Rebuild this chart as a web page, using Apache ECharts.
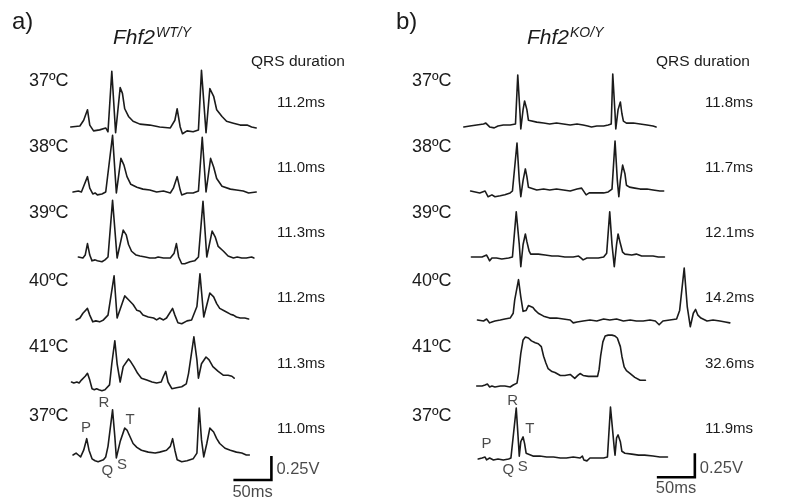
<!DOCTYPE html>
<html>
<head>
<meta charset="utf-8">
<script src="https://cdn.jsdelivr.net/npm/echarts@6.0.0/dist/echarts.min.js"></script>
<style>
  html, body { margin: 0; padding: 0; background: #ffffff; }
  #chart { width: 785px; height: 502px; }
</style>
</head>
<body>
<div id="chart"></div>
<script>
// Surface ECG traces. Each point is [time in ms, amplitude in V], 0 V = isoelectric line.

// ---- Fhf2 WT/Y ----
const wt37a = [[1,0],[13,0.01],[18,0.07],[23,0.18],[26,0.02],[31,-0.04],[39,-0.03],[47,-0.01],[50,-0.05],[55,0.58],[60,-0.06],[66,0.41],[69,0.35],[72,0.19],[77,0.11],[83,0.06],[92,0.03],[105,0.02],[118,0],[132,-0.01],[138,0.07],[141,0.19],[145,0],[148,-0.07],[154,-0.04],[162,-0.05],[169,-0.03],[173,0.59],[179,-0.06],[184,0.40],[189,0.32],[193,0.18],[200,0.11],[206,0.06],[215,0.04],[224,0.02],[233,0.02],[239,0],[245,-0.01]];
const wt38 = [[4,0],[11,0.01],[15,0],[18,0.06],[23,0.16],[26,0.04],[30,-0.02],[33,-0.01],[36,-0.03],[42,-0.02],[47,0],[56,0.59],[61,-0.01],[67,0.35],[71,0.28],[75,0.16],[80,0.08],[88,0.05],[96,0.03],[105,0.02],[114,0],[123,0.01],[132,-0.01],[136,0.04],[141,0.16],[145,0.02],[147,-0.03],[154,-0.01],[162,-0.01],[169,0.01],[174,0.57],[179,0],[185,0.35],[189,0.26],[193,0.14],[200,0.06],[211,0.03],[219,0.02],[228,0.01],[235,-0.01],[245,0]];
const wt39 = [[11,0],[17,-0.01],[20,0.02],[23,0.14],[26,0.02],[29,-0.04],[33,-0.03],[36,-0.04],[42,-0.05],[46,-0.03],[50,0],[56,0.59],[62,-0.01],[70,0.28],[74,0.23],[77,0.13],[81,0.06],[87,0.02],[92,0.01],[99,0],[105,-0.01],[112,-0.01],[116,0],[123,-0.01],[132,-0.01],[137,0.04],[140,0.14],[143,0],[147,-0.07],[151,-0.07],[158,-0.05],[164,-0.04],[169,0],[175,0.58],[180,0],[187,0.27],[191,0.21],[195,0.11],[202,0.06],[208,0.01],[215,-0.01],[220,0],[226,-0.01],[232,-0.01],[239,0],[242,-0.01]];
const wt40 = [[8,-0.02],[13,0],[17,0.05],[23,0.10],[26,0.03],[30,-0.04],[34,-0.03],[39,-0.04],[44,-0.02],[50,0.03],[58,0.44],[62,0],[72,0.23],[77,0.19],[83,0.14],[88,0.08],[92,0.07],[96,0.03],[103,0.01],[110,0],[114,-0.02],[118,0],[123,-0.02],[127,0],[135,0.10],[138,0.03],[142,-0.05],[147,-0.06],[154,-0.03],[160,-0.02],[167,0.12],[171,0.46],[176,0.01],[184,0.26],[189,0.22],[193,0.15],[197,0.10],[204,0.07],[211,0.04],[215,0.03],[219,0.01],[224,0],[230,0],[235,-0.01]];
const wt41 = [[2,0],[5,-0.01],[9,0],[12,-0.01],[15,0.02],[20,0.06],[23,0.09],[26,0.02],[29,-0.07],[32,-0.08],[35,-0.07],[38,-0.08],[42,-0.09],[46,-0.08],[52,-0.03],[55,0.19],[59,0.43],[62,0.19],[66,0],[70,0.16],[77,0.24],[80,0.21],[84,0.16],[89,0.09],[94,0.04],[101,0.02],[108,0],[114,-0.01],[120,0],[123,0.06],[126,0.11],[129,0],[134,-0.07],[140,-0.06],[147,-0.05],[153,-0.02],[156,0.09],[163,0.47],[167,0.23],[169,0.04],[173,0.19],[179,0.26],[183,0.23],[188,0.16],[195,0.11],[202,0.07],[208,0.07],[213,0.06],[216,0.04]];
const wt37b = [[4,0],[8,0.02],[11,0],[14,-0.02],[18,0.05],[22,0.17],[25,0.05],[29,-0.04],[33,-0.06],[37,-0.07],[44,-0.05],[47,-0.02],[50,0.09],[56,0.47],[59,0.19],[61,-0.03],[66,0.14],[72,0.28],[75,0.26],[79,0.19],[83,0.12],[88,0.08],[94,0.05],[103,0.03],[112,0.02],[118,0.03],[127,0.05],[132,0.09],[135,0.17],[138,0.05],[141,-0.05],[147,-0.07],[154,-0.06],[162,-0.04],[167,0.02],[170,0.49],[173,0.16],[176,-0.02],[180,0.12],[184,0.28],[189,0.24],[193,0.17],[197,0.12],[204,0.07],[211,0.05],[219,0.03],[226,0.02],[232,0],[236,0]];

// ---- Fhf2 KO/Y ----
const ko37a = [[5,-0.02],[13,-0.01],[22,0],[31,0.01],[34,0.02],[39,-0.02],[45,-0.03],[50,-0.01],[57,0],[66,0],[73,0.01],[76,0.52],[79,0.12],[80,-0.04],[83,0.16],[85,0.25],[88,0.16],[90,0.05],[92,0.03],[101,0.03],[110,0.02],[118,0.01],[127,0.02],[136,0.01],[145,0],[154,0.01],[162,0],[168,-0.01],[170,-0.03],[173,-0.02],[180,-0.01],[189,-0.01],[195,0],[199,0.01],[201,0.53],[204,0.12],[205,-0.04],[208,0.16],[211,0.24],[213,0.12],[215,0.04],[219,0.02],[228,0.02],[237,0.01],[246,0],[254,-0.01],[258,-0.02]];
const ko38 = [[14,0],[20,-0.01],[26,-0.02],[33,0],[35,-0.02],[37,-0.06],[42,-0.04],[46,-0.06],[53,-0.05],[59,-0.04],[66,-0.02],[69,0],[75,0.50],[78,0.11],[80,-0.06],[83,0.11],[86,0.23],[88,0.15],[90,0.04],[92,0.02],[101,0.01],[110,0.02],[118,0.01],[127,0.02],[136,0.01],[145,0],[154,0.02],[160,0.03],[162,0.01],[166,-0.04],[170,-0.02],[176,-0.02],[182,-0.02],[189,-0.02],[195,-0.01],[200,0.02],[204,0.52],[207,0.11],[209,-0.06],[211,0.11],[214,0.27],[217,0.18],[219,0.06],[223,0.04],[230,0.03],[237,0.02],[246,0.02],[254,0.01],[263,0],[268,0]];
const ko39 = [[15,0],[22,0],[29,0],[32,0.01],[35,0.02],[37,-0.01],[39,-0.04],[42,-0.01],[48,-0.01],[55,-0.02],[64,-0.01],[69,0],[74,0.47],[78,0.13],[80,-0.10],[83,0.13],[86,0.24],[88,0.16],[91,0.06],[93,0.03],[103,0.03],[112,0.02],[121,0.01],[129,0.01],[138,0],[149,0],[156,0.01],[159,-0.01],[162,-0.03],[167,-0.01],[173,-0.01],[182,-0.01],[189,0],[193,0.04],[197,0.47],[200,0.13],[203,-0.10],[206,0.13],[208,0.24],[211,0.14],[214,0.05],[217,0.03],[226,0.02],[232,0.03],[239,0.01],[248,0.01],[254,0.01],[261,0],[269,0]];
const ko40 = [[23,0],[31,-0.01],[35,0.01],[39,-0.03],[42,-0.02],[46,-0.01],[53,0],[59,0.01],[66,0.02],[70,0.07],[72,0.21],[77,0.42],[80,0.24],[83,0.09],[87,0.10],[90,0.15],[92,0.17],[96,0.13],[99,0.10],[103,0.07],[110,0.04],[118,0.02],[127,0.02],[136,0.01],[145,0],[149,-0.03],[151,-0.05],[154,-0.02],[162,-0.01],[171,0],[180,-0.01],[189,0.01],[197,0],[206,0.01],[215,-0.01],[224,0],[232,-0.01],[241,-0.01],[250,0],[257,-0.01],[259,-0.03],[262,-0.05],[267,-0.01],[276,0],[285,0.01],[289,0.10],[295,0.54],[299,0.14],[303,-0.07],[307,0.07],[310,0.11],[313,0.05],[317,0.02],[325,-0.01],[333,0],[342,-0.01],[349,-0.02],[355,-0.03]];
const ko41 = [[22,0],[29,0],[33,0.01],[36,0.02],[39,-0.01],[42,0],[46,-0.01],[53,0],[59,0],[66,-0.01],[70,0.01],[75,0.03],[77,0.13],[80,0.34],[83,0.48],[86,0.51],[90,0.50],[94,0.47],[99,0.45],[103,0.44],[107,0.41],[110,0.31],[113,0.24],[116,0.18],[121,0.15],[125,0.14],[132,0.11],[138,0.11],[145,0.12],[148,0.10],[151,0.08],[155,0.11],[158,0.13],[162,0.11],[169,0.10],[175,0.10],[181,0.10],[183,0.17],[185,0.31],[188,0.46],[191,0.52],[195,0.53],[200,0.53],[204,0.52],[207,0.50],[211,0.41],[213,0.31],[216,0.20],[219,0.16],[224,0.13],[230,0.09],[237,0.06],[241,0.06],[244,0.06]];
const ko37b = [[24,-0.01],[29,0],[33,0.01],[35,-0.02],[39,0],[44,-0.02],[50,-0.01],[57,-0.02],[64,-0.01],[67,0],[74,0.52],[77,0.15],[78,0.02],[80,0.17],[83,0.22],[85,0.15],[87,0.05],[89,0.03],[96,0.02],[105,0.02],[114,0.01],[123,0.01],[132,0],[140,0],[149,0.01],[158,0],[161,0.02],[163,-0.02],[167,-0.03],[171,0],[180,0],[189,0],[194,0.01],[198,0.53],[203,0.10],[204,0.03],[206,0.21],[208,0.24],[211,0.17],[213,0.07],[217,0.05],[226,0.04],[235,0.03],[243,0.03],[254,0.02],[263,0.01],[273,0.01]];

// Row labels and measured QRS durations
const rowTemps = ['37ºC', '38ºC', '39ºC', '40ºC', '41ºC', '37ºC'];
const wtQrs = ['11.2ms', '11.0ms', '11.3ms', '11.2ms', '11.3ms', '11.0ms'];
const koQrs = ['11.8ms', '11.7ms', '12.1ms', '14.2ms', '32.6ms', '11.9ms'];

// Wave names marked on the last trace of each panel
const waveLetters = ['P', 'Q', 'R', 'S', 'T'];

// Calibration bars
const scaleMs = 50;
const scaleV = 0.25;

// ---------------- layout ----------------
const FONT = '"Liberation Sans", Arial, Helvetica, sans-serif';
const INK = '#1b1b1b';
const MS_PX = 0.76;           // pixels per millisecond
const V_PX = 96;              // pixels per volt
const V_LO = -0.4, V_HI = 0.7;
const tempY = [81, 147.5, 213.5, 281, 347, 416];
const qrsY = [102.5, 167.5, 232.5, 298, 363.5, 428.7];

const panels = [
  {
    traces: [wt37a, wt38, wt39, wt40, wt41, wt37b], qrs: wtQrs,
    left: 70, spanMs: 300, baselines: [127, 192, 257, 318, 382, 455],
    letterAt: [[21, 0.28], [49, -0.17], [44.7, 0.54], [68.4, -0.10], [79, 0.37]],
    barAt: [215, -0.26], vLabelDy: 1, msLabelDy: 12,
    tag: 'a)', tagX: 12, sup: 'WT/Y', geneX: 113,
    tempX: 29, qrsX: 277, headX: 251
  },
  {
    traces: [ko37a, ko38, ko39, ko40, ko41, ko37b], qrs: koQrs,
    left: 460, spanMs: 380, baselines: [125, 191, 257, 320, 386, 458],
    letterAt: [[35, 0.15], [63.6, -0.125], [69.3, 0.60], [82.5, -0.09], [92, 0.30]],
    barAt: [259, -0.20], vLabelDy: 3, msLabelDy: 11,
    tag: 'b)', tagX: 396, sup: 'KO/Y', geneX: 527,
    tempX: 412, qrsX: 705, headX: 656
  }
];

const measureCtx = document.createElement('canvas').getContext('2d');
function textWidth(str, font) { measureCtx.font = font; return measureCtx.measureText(str).width; }

const plainLabel = { textBorderWidth: 0, textBorderColor: 'transparent', textShadowBlur: 0 };

const grids = [], xAxes = [], yAxes = [], series = [], graphics = [];

panels.forEach((p) => {
  p.traces.forEach((trace, r) => {
    const gi = grids.length;
    grids.push({
      left: p.left, top: p.baselines[r] - V_HI * V_PX,
      width: p.spanMs * MS_PX, height: (V_HI - V_LO) * V_PX,
      containLabel: false
    });
    xAxes.push({ type: 'value', gridIndex: gi, min: 0, max: p.spanMs, show: false });
    yAxes.push({ type: 'value', gridIndex: gi, min: V_LO, max: V_HI, show: false });
    series.push({
      type: 'line', xAxisIndex: gi, yAxisIndex: gi, data: trace,
      showSymbol: false, symbol: 'none', smooth: false, clip: false, silent: true,
      lineStyle: { color: INK, width: 1.6, cap: 'round', join: 'round' }
    });
    if (r === p.traces.length - 1) {
      // wave names
      series.push({
        type: 'scatter', xAxisIndex: gi, yAxisIndex: gi, symbolSize: 0, silent: true, clip: false,
        itemStyle: { color: INK },
        data: waveLetters.map((w, k) => ({ name: w, value: p.letterAt[k] })),
        label: Object.assign({
          show: true, position: 'inside', formatter: (d) => d.name,
          fontFamily: FONT, fontSize: 15, color: INK
        }, plainLabel)
      });
      // calibration bar: 50 ms horizontal, 0.25 V vertical
      const [t0, v0] = p.barAt;
      series.push({
        type: 'line', xAxisIndex: gi, yAxisIndex: gi, silent: true, clip: false,
        showSymbol: false, symbol: 'none',
        data: [[t0, v0], [t0 + scaleMs, v0], [t0 + scaleMs, v0 + scaleV]],
        lineStyle: { color: '#000', width: 2.6, join: 'miter', cap: 'butt' }
      });
      series.push({
        type: 'scatter', xAxisIndex: gi, yAxisIndex: gi, symbolSize: 0, silent: true, clip: false,
        itemStyle: { color: INK },
        data: [
          { name: scaleV + 'V', value: [t0 + scaleMs, v0 + scaleV / 2] },
          { name: scaleMs + 'ms', value: [t0, v0] }
        ],
        label: Object.assign({
          show: true, fontFamily: FONT, fontSize: 16.5, color: INK,
          formatter: (d) => d.name, position: 'inside'
        }, plainLabel),
        labelLayout: (params) => {
          return params.dataIndex === 0
            ? { x: params.rect.x + 5, y: params.rect.y + p.vLabelDy, align: 'left', verticalAlign: 'middle' }
            : { x: params.rect.x - 1, y: params.rect.y + p.msLabelDy, align: 'left', verticalAlign: 'middle' };
        }
      });
    }
  });

  // panel tag and genotype heading
  graphics.push({ type: 'text', x: p.tagX, y: 22,
    style: { text: p.tag, font: '24px ' + FONT, fill: INK, align: 'left', verticalAlign: 'middle' } });
  const geneFont = 'italic 21px ' + FONT;
  graphics.push({ type: 'text', x: p.geneX, y: 38.5,
    style: { text: 'Fhf2', font: geneFont, fill: INK, align: 'left', verticalAlign: 'middle' } });
  graphics.push({ type: 'text', x: p.geneX + textWidth('Fhf2', geneFont) + 1, y: 33,
    style: { text: p.sup, font: 'italic 14px ' + FONT, fill: INK, align: 'left', verticalAlign: 'middle' } });
  graphics.push({ type: 'text', x: p.headX, y: 62,
    style: { text: 'QRS duration', font: '15.5px ' + FONT, fill: INK, align: 'left', verticalAlign: 'middle' } });

  rowTemps.forEach((t, r) => {
    graphics.push({ type: 'text', x: p.tempX, y: tempY[r],
      style: { text: t, font: '18px ' + FONT, fill: INK, align: 'left', verticalAlign: 'middle' } });
    graphics.push({ type: 'text', x: p.qrsX, y: qrsY[r],
      style: { text: p.qrs[r], font: '15px ' + FONT, fill: INK, align: 'left', verticalAlign: 'middle' } });
  });
});

const chart = echarts.init(document.getElementById('chart'), null, { renderer: 'canvas' });
chart.setOption({
  animation: false,
  backgroundColor: '#ffffff',
  grid: grids,
  xAxis: xAxes,
  yAxis: yAxes,
  series: series,
  graphic: graphics
});
</script>
</body>
</html>
